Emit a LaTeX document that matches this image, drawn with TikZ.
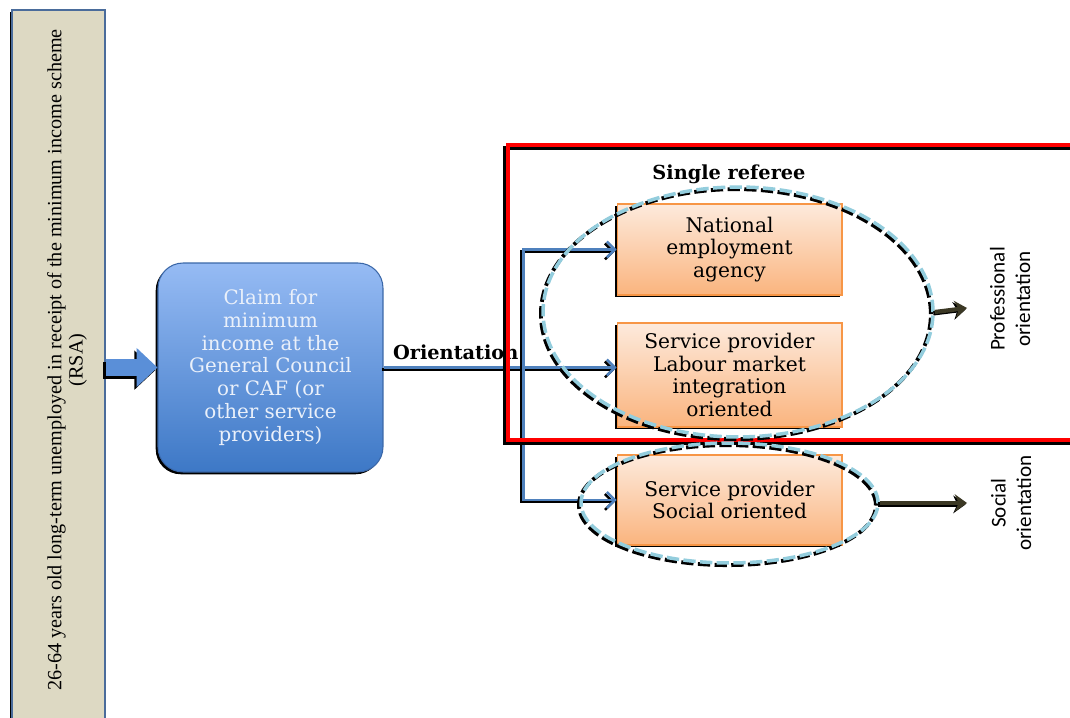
\documentclass[tikz,border=0pt]{standalone}
\usepackage{fontspec}
\setmainfont{DejaVu Serif}
\newfontfamily\barfont{Liberation Serif}
\newfontfamily\sidefont{Carlito}
\usetikzlibrary{calc}
\usetikzlibrary{arrows.meta}
\usetikzlibrary{shapes.geometric}
\usetikzlibrary{shadows}

\definecolor{tanfill}{HTML}{DDD9C3}
\definecolor{barline}{HTML}{4A6C9B}
\definecolor{claimtop}{HTML}{96BBF4}
\definecolor{claimbot}{HTML}{3D78C6}
\definecolor{claimline}{HTML}{3A67A8}
\definecolor{claimtext}{HTML}{EAF0FA}
\definecolor{agencytop}{HTML}{FDEADC}
\definecolor{agencybot}{HTML}{FAB47E}
\definecolor{agencyline}{HTML}{F79646}
\definecolor{linkblue}{HTML}{4F81BD}
\definecolor{fatblue}{HTML}{5A8FD8}
\definecolor{groupdash}{HTML}{93CDDD}
\definecolor{darkolive}{HTML}{3B3824}

\tikzset{
  hardshadow/.style={general shadow={fill=black, shadow xshift=-1.3pt, shadow yshift=-1.3pt}},
  barbox/.style={draw=barline, fill=tanfill, line width=0.7pt, hardshadow,
    minimum width=1.86cm, minimum height=14.3cm},
  bartext/.style={rotate=90, align=center, font=\barfont\fontsize{11.5}{12}\selectfont},
  claimbox/.style={draw=claimline, line width=0.6pt, rounded corners=0.5cm,
    top color=claimtop, bottom color=claimbot, hardshadow,
    minimum width=4.5cm, minimum height=4.18cm, align=center, text=claimtext,
    font=\fontsize{11.3}{13}\selectfont},
  agencybox/.style={draw=agencyline, line width=0.6pt, top color=agencytop,
    bottom color=agencybot, hardshadow, minimum width=4.5cm, align=center,
    font=\fontsize{11.5}{12.8}\selectfont},
  groupring/.style={ellipse, inner sep=0pt, draw=groupdash, line width=2pt,
    dash pattern=on 7pt off 2.5pt,
    preaction={draw=black, line width=2.2pt, dash pattern=on 7pt off 2.5pt,
      transform canvas={shift={(-1.2pt,-1.2pt)}}}},
  link/.style={draw=linkblue, line width=1.7pt,
    -{Straight Barb[length=4.5pt,width=9pt,line width=1.4pt]},
    preaction={draw=black, line width=1.7pt, transform canvas={shift={(-1.1pt,-1.1pt)}}}},
  fatarrow/.style={draw=fatblue, line width=0.34cm, -{Triangle[length=0.42cm,width=0.76cm]},
    preaction={draw=black, line width=0.34cm, -{Triangle[length=0.42cm,width=0.76cm]},
      transform canvas={shift={(-1.2pt,-1.5pt)}}}},
  outarrow/.style={draw=darkolive, line width=2.4pt, -{Stealth[length=7pt,width=10pt]},
    preaction={draw=black, line width=2.4pt, transform canvas={shift={(-0.8pt,-0.8pt)}}}},
  redframe/.style={draw=red, line width=2.1pt,
    preaction={draw=black, line width=2.1pt, transform canvas={shift={(-1.6pt,-1.6pt)}}}},
  orilabel/.style={font=\bfseries\fontsize{11}{12}\selectfont},
  sidelabel/.style={rotate=90, align=center, font=\sidefont\fontsize{12}{14.5}\selectfont}
}

\begin{document}
\begin{tikzpicture}[x=0.02cm, y=0.02cm]

\clip (0,0) rectangle (1070,717);
\fill[white] (0,0) rectangle (1070,717);

% left column and claim
\node[barbox] (rsa) at (58.5,349.5) {};
\node[bartext] (rsatext) at (67,357) {26-64 years old long-term unemployed in receipt of the minimum income scheme\\(RSA)};
\node[claimbox] (claim) at (270.5,349.5) {Claim for\\minimum\\income at the\\General Council\\or CAF (or\\other service\\providers)};
\draw[fatarrow] (rsa.east) -- (claim.west);

% service providers
\node[agencybox, minimum height=1.82cm] (nea) at (729.5,467.5) {National\\employment\\agency};
\node[agencybox, minimum height=2.08cm] (lmi) at (729.5,342) {Service provider\\Labour market\\integration\\oriented};
\node[agencybox, minimum height=1.8cm] (soc) at (729.5,217) {Service provider\\Social oriented};

% orientation links
\coordinate (split) at (523,349.5);
\draw[link] (claim.east) -- (claim.east -| lmi.west) node[orilabel, pos=0.31, above] (orient) {Orientation};
\draw[link] (split) |- (nea.west);
\draw[link] (split) |- (soc.west);

\draw[redframe] (508,572) rectangle (1090,277);

% groups
\node[orilabel] (referee) at (729,543) {Single referee};
\node[groupring, minimum width=7.8cm, minimum height=5cm] (profgroup) at (738,405) {};
\node[groupring, minimum width=5.94cm, minimum height=2.4cm] (socgroup) at (729.5,214) {};

\node[sidelabel] (proftext) at (1010,418) {Professional\\orientation};
\node[sidelabel] (soctext) at (1011,214) {Social\\orientation};
\coordinate (profend) at (967,409);
\coordinate (socend) at (967,214);
\draw[outarrow] (profgroup.east) -- (profend);
\draw[outarrow] (socgroup.east) -- (socend);

\end{tikzpicture}
\end{document}
